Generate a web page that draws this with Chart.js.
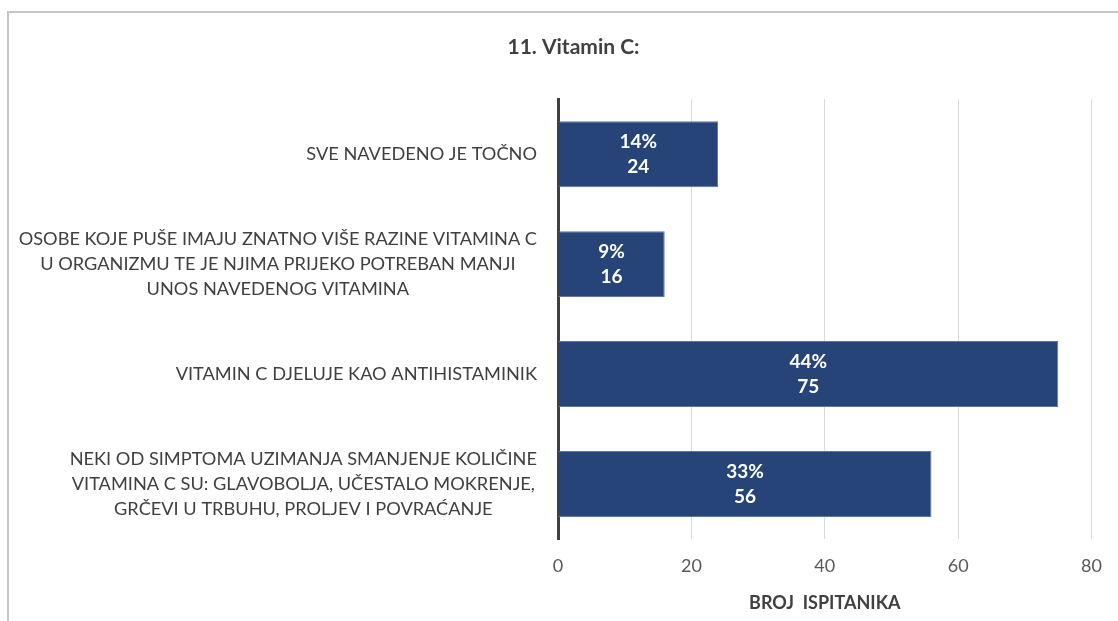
<!DOCTYPE html>
<html lang="hr">
<head>
    <meta charset="UTF-8">
    <title>11. Vitamin C:</title>
    <script src="https://cdn.jsdelivr.net/npm/chart.js"></script>
    <style>
        html, body {
            margin: 0;
            padding: 0;
            background: #fff;
            overflow: hidden;
        }

        #okvir {
            position: absolute;
            left: 7px;
            top: 11px;
            width: 1120px;
            height: 620px;
            border-top: 2px solid #c6c6c6;
            border-left: 2px solid #c6c6c6;
        }

        #graf {
            position: absolute;
            left: 0;
            top: 0;
        }
    </style>
</head>
<body>
    <div id="okvir"></div>
    <canvas id="graf" width="1118" height="621"></canvas>

    <script>
        // Podaci s grafa
        const odgovori = [
            ['SVE NAVEDENO JE TOČNO'],
            ['OSOBE KOJE PUŠE IMAJU ZNATNO VIŠE RAZINE VITAMINA C',
             'U ORGANIZMU TE JE NJIMA PRIJEKO POTREBAN MANJI',
             'UNOS NAVEDENOG VITAMINA'],
            ['VITAMIN C DJELUJE KAO ANTIHISTAMINIK'],
            ['NEKI OD SIMPTOMA UZIMANJA SMANJENJE KOLIČINE',
             'VITAMINA C SU: GLAVOBOLJA, UČESTALO MOKRENJE,',
             'GRČEVI U TRBUHU, PROLJEV I POVRAĆANJE']
        ];
        const brojIspitanika = [24, 16, 75, 56];
        const postotci = ['14%', '9%', '44%', '33%'];
        const oznakeX = [0, 20, 40, 60, 80];

        const FONT = 'Lato, Carlito, Calibri, sans-serif';

        // Oznake kategorija: svaki blok poravnat desno, retci centrirani unutar bloka
        const oznakeKategorija = {
            id: 'oznakeKategorija',
            afterDraw(chart) {
                const y = chart.scales.y;
                const ctx = chart.ctx;
                ctx.save();
                ctx.font = '18.2px ' + FONT;
                ctx.fillStyle = '#404040';
                ctx.textAlign = 'center';
                ctx.textBaseline = 'middle';
                const desno = chart.chartArea.left - 21;
                const razmak = 25;
                odgovori.forEach((retci, i) => {
                    const sredina = y.getPixelForValue(i);
                    const sirina = Math.max(...retci.map(r => ctx.measureText(r).width));
                    const cx = desno - sirina / 2;
                    const pocetak = sredina - (retci.length - 1) * razmak / 2;
                    retci.forEach((r, j) => ctx.fillText(r, cx, pocetak + j * razmak));
                });
                ctx.restore();
            }
        };

        // Oznake vrijednosti unutar stupaca
        const oznakeVrijednosti = {
            id: 'oznakeVrijednosti',
            afterDatasetsDraw(chart) {
                const ctx = chart.ctx;
                const meta = chart.getDatasetMeta(0);
                ctx.save();
                ctx.font = 'bold 19px ' + FONT;
                ctx.fillStyle = '#ffffff';
                ctx.textAlign = 'center';
                ctx.textBaseline = 'middle';
                meta.data.forEach((bar, i) => {
                    const cx = (bar.x + bar.base) / 2;
                    ctx.fillText(postotci[i], cx, bar.y - 12);
                    ctx.fillText(String(brojIspitanika[i]), cx, bar.y + 13);
                });
                ctx.restore();
            }
        };

        new Chart(document.getElementById('graf'), {
            type: 'bar',
            data: {
                labels: odgovori,
                datasets: [{
                    data: brojIspitanika,
                    backgroundColor: '#264478',
                    borderColor: '#5b77a6',
                    borderWidth: 1,
                    borderSkipped: 'start',
                    barPercentage: 0.6,
                    categoryPercentage: 1.0
                }]
            },
            options: {
                indexAxis: 'y',
                responsive: false,
                animation: false,
                layout: {
                    padding: { top: 0, right: 13, bottom: 0, left: 42 }
                },
                plugins: {
                    legend: { display: false },
                    tooltip: { enabled: false },
                    title: {
                        display: true,
                        text: '11. Vitamin C:',
                        color: '#404040',
                        font: { family: FONT, size: 21, weight: 'bold' },
                        padding: { top: 35, bottom: 39 }
                    }
                },
                scales: {
                    x: {
                        min: 0,
                        max: 80,
                        afterBuildTicks(scale) {
                            scale.ticks = oznakeX.map(v => ({ value: v }));
                        },
                        afterFit(scale) {
                            scale.height = 82;
                        },
                        grid: {
                            color: '#d9d9d9',
                            lineWidth: 1,
                            drawTicks: false
                        },
                        border: { display: false },
                        ticks: {
                            color: '#595959',
                            font: { family: FONT, size: 18 },
                            padding: 16
                        },
                        title: {
                            display: true,
                            text: 'BROJ  ISPITANIKA',
                            color: '#404040',
                            font: { family: FONT, size: 18, weight: 'bold' },
                            padding: { top: 8, bottom: 7 }
                        }
                    },
                    y: {
                        afterFit(scale) {
                            scale.width = 516;
                        },
                        grid: {
                            display: false,
                            drawTicks: false
                        },
                        border: {
                            display: true,
                            color: '#404040',
                            width: 3
                        },
                        ticks: {
                            display: false
                        }
                    }
                }
            },
            plugins: [oznakeKategorija, oznakeVrijednosti]
        });
    </script>
</body>
</html>
